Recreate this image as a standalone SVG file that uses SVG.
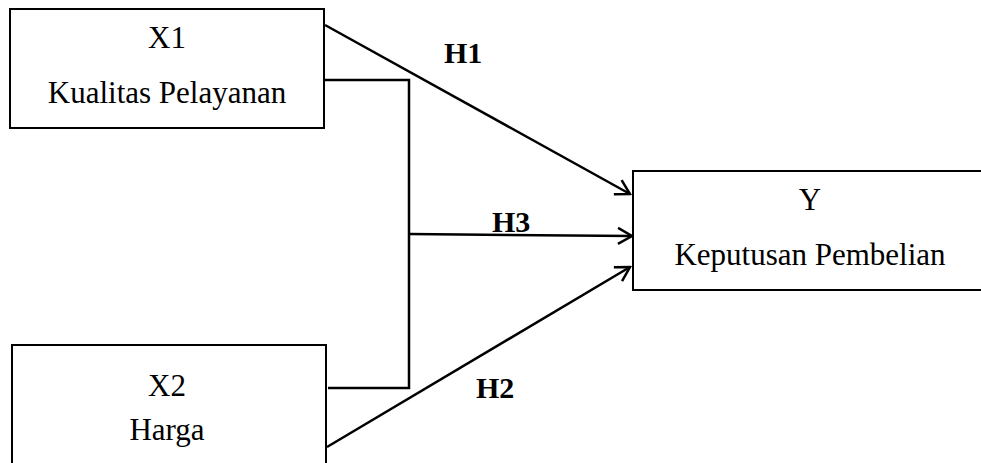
<svg xmlns="http://www.w3.org/2000/svg" width="981" height="463" viewBox="0 0 981 463">
<style>
.box{fill:#fff;stroke:#000;stroke-width:2}
.t{font-family:"Liberation Serif","Times New Roman",serif;font-size:31px;fill:#000;text-anchor:middle}
.h{font-family:"Liberation Serif","Times New Roman",serif;font-size:30px;font-weight:bold;fill:#000}
.c{fill:none;stroke:#000;stroke-width:2.5}
</style>
<defs>
<marker id="arr" markerWidth="20" markerHeight="20" refX="18" refY="10" orient="auto" markerUnits="userSpaceOnUse">
<path d="M4,2 L18,10 L4,18" fill="none" stroke="#000" stroke-width="2.5"/>
</marker>
</defs>
<rect width="981" height="463" fill="#fff"/>
<g id="connectors">
<polyline class="c" points="324,80 409,80 409,388 328,388"/>
<line class="c" x1="325" y1="25" x2="630" y2="194" marker-end="url(#arr)"/>
<line class="c" x1="409" y1="234" x2="632" y2="236" marker-end="url(#arr)"/>
<line class="c" x1="327" y1="447" x2="630" y2="267" marker-end="url(#arr)"/>
<text class="h" x="444" y="63">H1</text>
<text class="h" x="492" y="232">H3</text>
<text class="h" x="476" y="398">H2</text>
</g>
<g id="x1">
<rect class="box" x="10" y="9" width="314" height="119"/>
<text class="t" x="167" y="48">X1</text>
<text class="t" x="167" y="103">Kualitas Pelayanan</text>
</g>
<g id="x2">
<rect class="box" x="12" y="345" width="314" height="130"/>
<text class="t" x="167" y="396">X2</text>
<text class="t" x="167" y="440">Harga</text>
</g>
<g id="y">
<rect class="box" x="633" y="171" width="360" height="119"/>
<text class="t" x="810" y="210">Y</text>
<text class="t" x="810" y="265">Keputusan Pembelian</text>
</g>
</svg>
